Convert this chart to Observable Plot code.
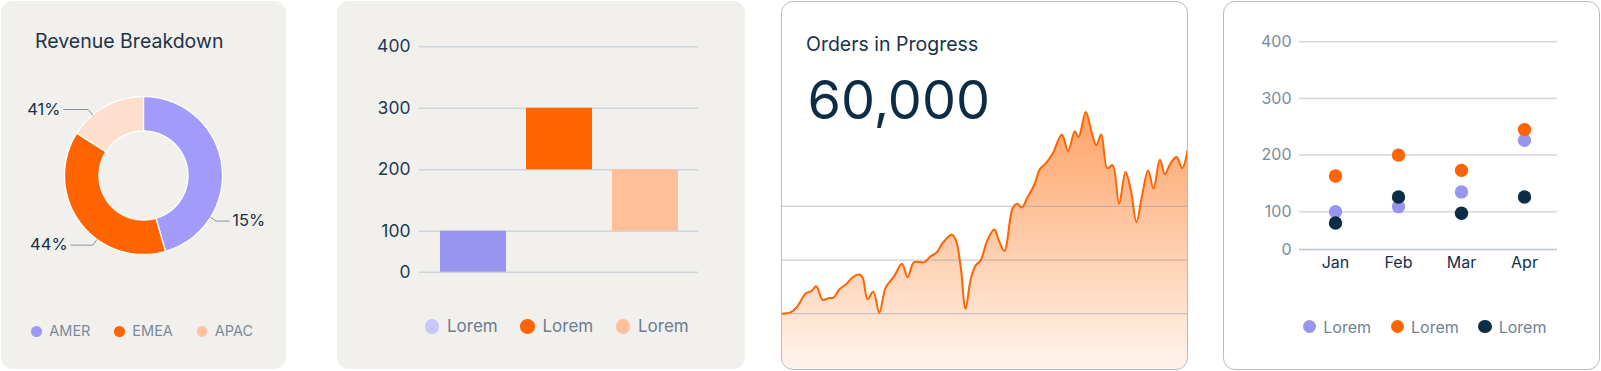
<!DOCTYPE html>
<html><head><meta charset="utf-8">
<script src="https://cdn.jsdelivr.net/npm/d3@7"></script>
<script src="https://cdn.jsdelivr.net/npm/@observablehq/plot@0.6"></script>
<style>
html,body{margin:0;padding:0;background:#fff;}
body{width:1601px;height:371px;overflow:hidden;font-family:Inter,"Noto Sans",sans-serif;}
#root{position:relative;width:1601px;height:371px;}
.card{position:absolute;box-sizing:border-box;border-radius:12px;overflow:hidden;}
.txt{position:absolute;line-height:1;white-space:nowrap;}
.legend{position:absolute;display:flex;align-items:center;white-space:nowrap;line-height:1;}
.legend .it{display:flex;align-items:center;}
.legend .dot{border-radius:50%;display:inline-block;flex:none;}
</style></head><body><div id="root"></div>
<script>
// ---------- data ----------
const regions = ["AMER", "EMEA", "APAC"];
const regionShares = [45.5, 38.5, 16];
const regionLabels = ["15%", "44%", "41%"];

const barCategories = ["A", "B", "C"];
const barStarts = [0, 200, 100];
const barEnds = [100, 300, 200];
const barTicks = [0, 100, 200, 300, 400];
const barLegend = ["Lorem", "Lorem", "Lorem"];

const ordersTitle = "Orders in Progress";
const ordersTotal = "60,000";
const ordersGrid = [10, 20, 30];
const orderDays = [0,2.1,3.4,5.8,7.1,8.3,9.9,11.4,12.6,14.0,15.7,17.2,19.0,19.8,21.0,22.4,23.9,25.5,27.6,29.5,30.9,32.5,35.0,36.6,37.9,39.9,41.8,42.8,44.0,45.2,46.5,47.7,48.9,50.6,52.3,53.4,54.8,56.8,57.9,59.1,60.5,62.1,63.6,65.0,66.7,69.0,70.5,72.2,73.1,74.9,76.3,77.5,78.7,80.2,81.5,83.1,84.7,86.0,87.4,88.8,90.3,91.6,93.2,94.4,95.8,97.3,98.7,100];
const orderValues = [10.0,10.3,11.1,13.8,14.2,15.1,12.6,12.9,13.0,14.5,15.5,16.7,17.3,16.7,12.7,14.1,10.2,14.9,17.0,19.3,16.8,19.6,19.6,20.7,21.3,23.5,24.7,23.7,18.7,10.9,16.5,19.0,19.9,23.7,25.7,23.7,21.7,29.6,30.5,29.8,31.7,33.9,37.0,38.0,39.8,43.4,40.3,44.0,42.9,47.6,43.9,41.4,43.4,37.1,37.7,30.5,36.4,33.0,27.1,32.1,36.7,33.3,38.7,36.0,38.0,39.2,37.1,40.4];

const months = ["Jan", "Feb", "Mar", "Apr"];
const seriesA = [100, 109, 135, 226];
const seriesB = [163, 200, 173, 245];
const seriesC = [70, 126, 96, 126];
const dotTicks = [0, 100, 200, 300, 400];
const dotLegend = ["Lorem", "Lorem", "Lorem"];

// ---------- styles ----------
const donutColors = ["#a29bf9", "#ff6400", "#fedfcd"];
const regionLegendColors = ["#9d98f5", "#ff6400", "#ffc19e"];
const barColors = ["#9795f0", "#ff6400", "#ffbf98"];
const barLegendColors = ["#c9c7f6", "#ff6400", "#ffbf98"];
const dotColors = ["#9895ef", "#ff6400", "#0c2d45"];
const labelAngles = [122, 216, 320];   // label anchor angles (layout)
const leaderLens = [0.16, 0.28, 0.31];

// value axis of panels 2 and 4: the 0–100 band is drawn at 2/3 of the other bands
const warp = v => v <= 100 ? (v / 100) * (2 / 3) : 2 / 3 + (v - 100) / 100;
const warpMax = warp(400);

const root = document.getElementById("root");
function el(tag, cls, css, text) {
  const e = document.createElement(tag);
  if (cls) e.className = cls;
  Object.assign(e.style, css || {});
  if (text != null) e.textContent = text;
  return e;
}
function legend(parent, left, cy, items, colors, o) {
  const lg = el("div", "legend", {left: left + "px", top: (cy - 12) + "px", height: "24px", gap: o.gap + "px", fontSize: o.font + "px", color: o.color});
  items.forEach((t, i) => {
    const it = el("div", "it");
    it.appendChild(el("span", "dot", {width: o.d + "px", height: o.d + "px", background: colors[i], marginRight: o.m + "px"}));
    it.appendChild(el("span", null, {}, t));
    lg.appendChild(it);
  });
  parent.appendChild(lg);
}
const baseStyle = {background: "transparent", fontFamily: "Inter, 'Noto Sans', sans-serif", overflow: "visible", maxWidth: "none"};

// ---------- cards ----------
const c1 = el("div", "card", {left: "1px", top: "1px", width: "285px", height: "368px", background: "#f2f0ed"});
const c2 = el("div", "card", {left: "337px", top: "1px", width: "408px", height: "368px", background: "#f2f0ed"});
const c3 = el("div", "card", {left: "781px", top: "1px", width: "407px", height: "369px", background: "#fff", border: "1px solid #b4bcc4"});
const c4 = el("div", "card", {left: "1223px", top: "1px", width: "377px", height: "369px", background: "#fff", border: "1px solid #b4bcc4"});
[c1, c2, c3, c4].forEach(c => root.appendChild(c));

// ---------- panel 1: donut ----------
root.appendChild(el("div", "txt", {left: "35px", top: "31.5px", fontSize: "19.5px", color: "#1c3448"}, "Revenue Breakdown"));
const INNER = 44.5 / 79;
const pie = d3.pie().sort(null).value(d => d)(regionShares);
const arcRows = [];
pie.forEach((p, i) => {
  const n = 90;
  for (let k = 0; k <= n; k++) {
    const a = p.startAngle + (p.endAngle - p.startAngle) * k / n;
    arcRows.push({slice: regions[i], x: Math.sin(a), y: Math.cos(a)});
  }
  for (let k = n; k >= 0; k--) {
    const a = p.startAngle + (p.endAngle - p.startAngle) * k / n;
    arcRows.push({slice: regions[i], x: INNER * Math.sin(a), y: INNER * Math.cos(a)});
  }
});
const leaderRows = [], labelRows = [];
regionLabels.forEach((lab, i) => {
  const t = labelAngles[i] * Math.PI / 180;
  const ax = Math.sin(t), ay = Math.cos(t);
  const ex = ax * 1.09, ey = ay * 1.09;
  const side = ax >= 0 ? 1 : -1;
  const fx = ex + side * leaderLens[i];
  leaderRows.push({label: lab, x: ax, y: ay}, {label: lab, x: ex, y: ey}, {label: lab, x: fx, y: ey});
  labelRows.push({label: lab, x: fx + side * 0.04, y: ey, side});
});
const donut = Plot.plot({
  width: 286, height: 286, margin: 0,
  x: {domain: [-1.81, 1.81], axis: null},
  y: {domain: [-1.81, 1.81], axis: null},
  style: baseStyle,
  marks: [
    ...regions.map((r, i) => Plot.line(arcRows.filter(d => d.slice === r), {x: "x", y: "y", fill: donutColors[i], stroke: "white", strokeWidth: 1.3, curve: "linear-closed"})),
    Plot.line(leaderRows, {x: "x", y: "y", z: "label", stroke: "#8795a2", strokeWidth: 1}),
    Plot.text(labelRows.filter(d => d.side > 0), {x: "x", y: "y", text: "label", textAnchor: "start", fontSize: 16.5, fill: "#16324a"}),
    Plot.text(labelRows.filter(d => d.side < 0), {x: "x", y: "y", text: "label", textAnchor: "end", fontSize: 16.5, fill: "#16324a"})
  ]
});
Object.assign(donut.style, {position: "absolute", left: "0px", top: "32px"});
root.appendChild(donut);
legend(root, 31.4, 331.7, regions, regionLegendColors, {gap: 24, font: 14.5, color: "#7a8a99", d: 10.6, m: 7.3});

// ---------- panel 2: floating bars ----------
const barData = barCategories.map((c, i) => ({cat: c, y1: barStarts[i], y2: barEnds[i]}));
const bars = Plot.plot({
  width: 408, height: 300, marginLeft: 82, marginRight: 47, marginTop: 45.3, marginBottom: 29.3,
  x: {domain: barCategories, padding: 0.233, axis: null},
  y: {domain: [0, warpMax], axis: null},
  color: {domain: barCategories, range: barColors},
  style: baseStyle,
  marks: [
    Plot.ruleY(barTicks, {y: d => warp(d), stroke: "#cfd5dc", strokeWidth: 1.5}),
    Plot.barY(barData, {x: "cat", y1: d => warp(d.y1), y2: d => warp(d.y2), fill: "cat"}),
    Plot.text(barTicks, {y: d => warp(d), text: d => String(d), frameAnchor: "left", textAnchor: "end", dx: -9, fontSize: 17.5, fill: "#1d3a51"})
  ]
});
Object.assign(bars.style, {position: "absolute", left: "337px", top: "1px"});
root.appendChild(bars);
legend(root, 424.7, 326.7, barLegend, barLegendColors, {gap: 22.5, font: 17, color: "#6b7e8e", d: 14.6, m: 7.7});

// ---------- panel 3: area ----------
c3.appendChild(el("div", "txt", {left: "24px", top: "32.9px", fontSize: "19.5px", color: "#1a3249"}, ordersTitle));
c3.appendChild(el("div", "txt", {left: "25.5px", top: "70.6px", fontSize: "54px", color: "#0d2c45"}, ordersTotal));
const orders = orderDays.map((d, i) => ({day: d, value: orderValues[i]}));
const yFloor = -0.4;
const gradDef = () => {
  const defs = d3.create("svg:defs");
  const g = defs.append("linearGradient").attr("id", "ordersGrad").attr("x1", 0).attr("x2", 0).attr("y1", 0).attr("y2", 1);
  g.append("stop").attr("offset", "0%").attr("stop-color", "#ff6400").attr("stop-opacity", 0.6);
  g.append("stop").attr("offset", "100%").attr("stop-color", "#ff6400").attr("stop-opacity", 0.07);
  return defs.node();
};
const area = Plot.plot({
  width: 405, height: 367, margin: 0,
  x: {domain: [0, 100], axis: null},
  y: {domain: [yFloor, 68], axis: null},
  style: baseStyle,
  marks: [
    gradDef,
    Plot.areaY(orders, {x: "day", y1: yFloor, y2: "value", fill: "url(#ordersGrad)", curve: "catmull-rom"}),
    Plot.ruleY(ordersGrid, {y: d => d, stroke: "#97a4b0", strokeOpacity: 0.55, strokeWidth: 1.3}),
    Plot.lineY(orders, {x: "day", y: "value", stroke: "#ff6400", strokeWidth: 2, curve: "catmull-rom"})
  ]
});
Object.assign(area.style, {position: "absolute", left: "0px", top: "0px"});
c3.appendChild(area);

// ---------- panel 4: dots ----------
const dotRows = (vals, s) => months.map((m, i) => ({month: m, value: vals[i], s}));
const dots = Plot.plot({
  width: 377, height: 300, marginLeft: 76, marginRight: 43, marginTop: 40.3, marginBottom: 52,
  x: {type: "point", domain: months, range: [79.2, 333.9], padding: 0.5, axis: null},
  y: {domain: [0, warpMax], axis: null},
  style: baseStyle,
  marks: [
    Plot.ruleY(dotTicks.filter(d => d > 0), {y: d => warp(d), stroke: "#d3d8de", strokeWidth: 1.5}),
    Plot.ruleY([0], {y: d => warp(d), stroke: "#bcc2d6", strokeWidth: 1.5}),
    Plot.dot(dotRows(seriesA, 0), {x: "month", y: d => warp(d.value), r: 6.7, fill: dotColors[0]}),
    Plot.dot(dotRows(seriesB, 1), {x: "month", y: d => warp(d.value), r: 6.7, fill: dotColors[1]}),
    Plot.dot(dotRows(seriesC, 2), {x: "month", y: d => warp(d.value), r: 6.7, fill: dotColors[2]}),
    Plot.text(dotTicks, {y: d => warp(d), text: d => String(d), frameAnchor: "left", textAnchor: "end", dx: -8, fontSize: 16, fill: "#7b8c9a"}),
    Plot.text(months, {x: d => d, text: d => d, frameAnchor: "bottom", dy: 18.7, fontSize: 16, fill: "#14304a"})
  ]
});
Object.assign(dots.style, {position: "absolute", left: "1223px", top: "1px"});
root.appendChild(dots);
legend(root, 1303, 326.7, dotLegend, dotColors, {gap: 19.7, font: 16, color: "#6e8393", d: 13.4, m: 6.9});
</script>
</body></html>
